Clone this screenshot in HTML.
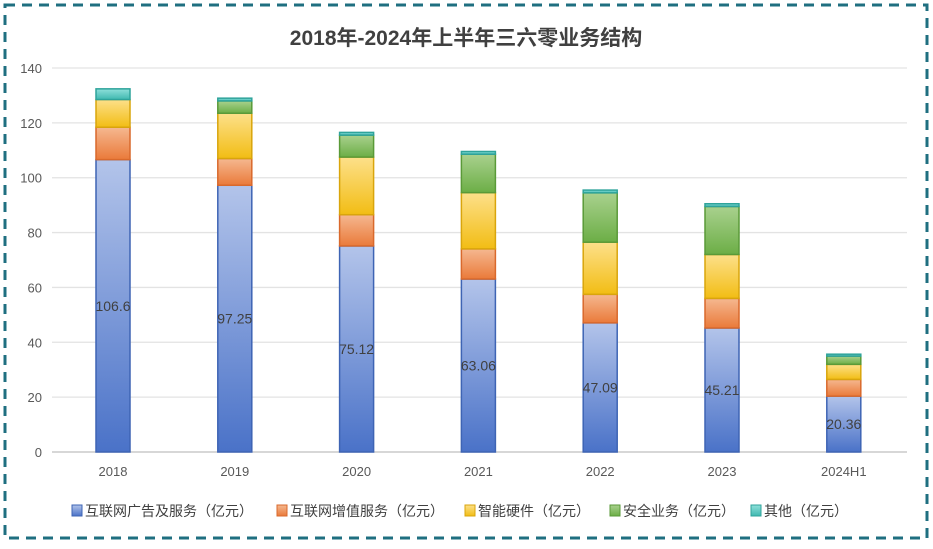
<!DOCTYPE html>
<html><head><meta charset="utf-8"><style>
body{margin:0;width:933px;height:544px;background:#fff;font-family:"Liberation Sans","Noto Sans CJK SC",sans-serif;overflow:hidden}
</style></head><body>
<svg width="933" height="544" xmlns="http://www.w3.org/2000/svg">
<defs>
<linearGradient id="gb" x1="0" y1="0" x2="0" y2="1"><stop offset="0" stop-color="#b3c4ea"/><stop offset="1" stop-color="#4a72c8"/></linearGradient>
<linearGradient id="go" x1="0" y1="0" x2="0" y2="1"><stop offset="0" stop-color="#f5b890"/><stop offset="1" stop-color="#ea7a3a"/></linearGradient>
<linearGradient id="gy" x1="0" y1="0" x2="0" y2="1"><stop offset="0" stop-color="#fde08a"/><stop offset="1" stop-color="#f2bd14"/></linearGradient>
<linearGradient id="gg" x1="0" y1="0" x2="0" y2="1"><stop offset="0" stop-color="#a9d18e"/><stop offset="1" stop-color="#6cae46"/></linearGradient>
<linearGradient id="gt" x1="0" y1="0" x2="0" y2="1"><stop offset="0" stop-color="#8fe0da"/><stop offset="1" stop-color="#3fb8b0"/></linearGradient>
</defs>
<rect x="5" y="5" width="922" height="533" fill="none" stroke="#1f6f80" stroke-width="3" stroke-dasharray="10,7"/>
<text x="466" y="45" text-anchor="middle" font-size="21" font-weight="bold" fill="#404040">2018年-2024年上半年三六零业务结构</text>
<g id="grid"></g><g id="bars"></g><g id="labels"></g>
<g id="legend" font-size="14" fill="#404040"></g>
</svg>
<script>
const categories=["2018","2019","2020","2021","2022","2023","2024H1"];
const adServices=[106.6,97.25,75.12,63.06,47.09,45.21,20.36];
const valueAdded=[11.8,9.75,11.4,11,10.4,10.8,6.1];
const hardware=[10.1,16.5,21,20.5,19,16,5.5];
const security=[0,4.5,8,14,18,17.5,3];
const others=[3.9,1,1,1,1,1,0.7];
const yTicks=[0,20,40,60,80,100,120,140];
const seriesNames=["互联网广告及服务（亿元）","互联网增值服务（亿元）","智能硬件（亿元）","安全业务（亿元）","其他（亿元）"];
const NS="http://www.w3.org/2000/svg";
const y=v=>452-v*384/140, x=i=>113+i*121.8;
const mk=(t,a,p)=>{const e=document.createElementNS(NS,t);for(const k in a)e.setAttribute(k,a[k]);p.appendChild(e);return e;};
const grid=document.getElementById('grid');
yTicks.forEach(t=>{
 const l=mk('line',{x1:52,x2:907,y1:y(t),y2:y(t),stroke:t==0?'#bfbfbf':'#e3e3e3','stroke-width':1.3},grid);
 
 
 const tx=mk('text',{x:42,y:y(t)+5,'text-anchor':'end','font-size':13,fill:'#595959'},grid);tx.textContent=t;
 
 
});
const series=[adServices,valueAdded,hardware,security,others];
const fills=['url(#gb)','url(#go)','url(#gy)','url(#gg)','url(#gt)'];
const strokes=['#3e64b4','#d9692c','#d9a50c','#5a9a38','#2fa39b'];
const bars=document.getElementById('bars'),labels=document.getElementById('labels');
categories.forEach((c,i)=>{
 let base=0;
 series.forEach((s,k)=>{
  const v=s[i]; if(v<=0)return;
  const r=mk('rect',{x:x(i)-17,y:y(base+v),width:34,height:y(base)-y(base+v),fill:fills[k],stroke:strokes[k],'stroke-width':1.5},bars);
  
  
  base+=v;
 });
 const t=mk('text',{x:x(i),y:y(adServices[i]/2)+5,'text-anchor':'middle','font-size':14,fill:'#404040'},labels);t.textContent=adServices[i];
 
 
 const xt=mk('text',{x:x(i),y:476,'text-anchor':'middle','font-size':13,fill:'#595959'},labels);xt.textContent=c;
 
 
});
const lg=document.getElementById('legend');
const lx=[72,277,465,610,751];
seriesNames.forEach((n,k)=>{
 const r=mk('rect',{x:lx[k],y:505,width:10,height:11,fill:fills[k],stroke:strokes[k]},lg);
 
 
 const t=mk('text',{x:lx[k]+13,y:516},lg);t.textContent=n;
 
 
});
</script>
</body></html>
